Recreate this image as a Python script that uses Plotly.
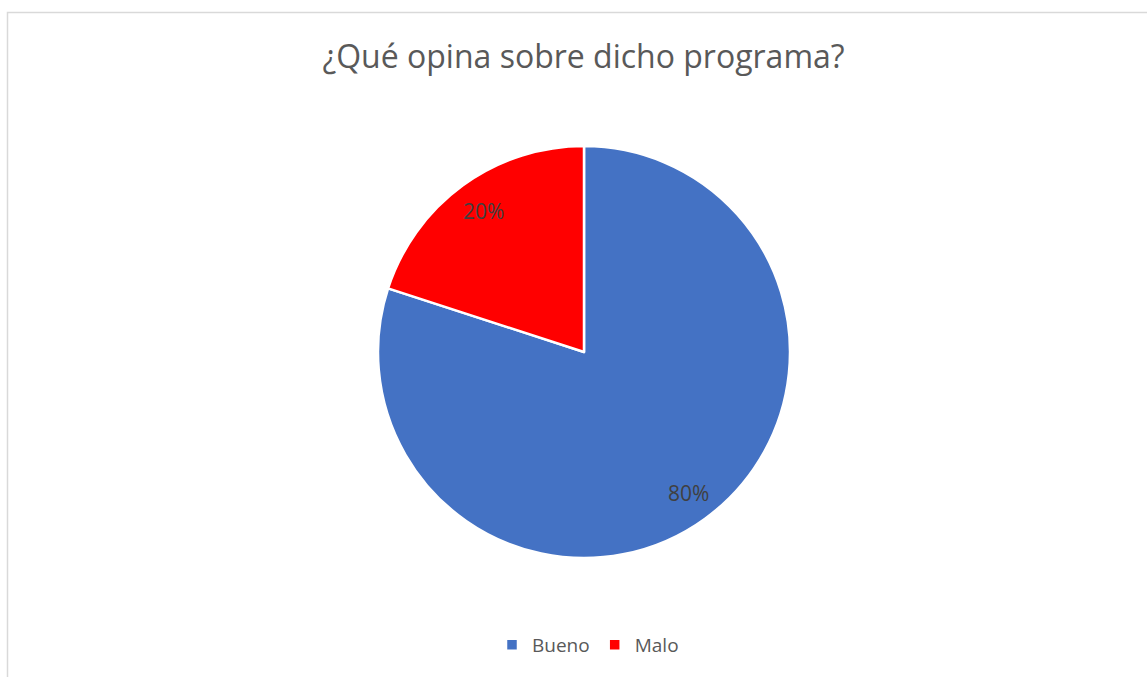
import math
import plotly.graph_objects as go

labels = ["Bueno", "Malo"]
values = [80, 20]
colors = ["#4472C4", "#FF0000"]
title_text = "¿Qué opina sobre dicho programa?"

W, H = 1147, 677
cx, cy, R = 584, 352, 206

fig = go.Figure()
fig.add_trace(go.Pie(
    labels=labels, values=values, sort=False, direction="clockwise", rotation=0,
    marker=dict(colors=colors, line=dict(color="white", width=2.5)),
    textinfo="none", hoverinfo="label+percent",
    domain=dict(x=[(cx - R) / W, (cx + R) / W], y=[(H - (cy + R)) / H, (H - (cy - R)) / H]),
))

# percentage labels placed along each slice's bisector
total = sum(values)
cum = 0
for v in values:
    mid = (cum + v / 2) / total * 2 * math.pi
    cum += v
    px = cx + 0.845 * R * math.sin(mid) + 2
    py = cy - 0.845 * R * math.cos(mid)
    fig.add_annotation(x=px / W, y=(H - py) / H, xref="paper", yref="paper",
                       xanchor="center", yanchor="middle",
                       text=f"{round(v / total * 100)}%", showarrow=False,
                       font=dict(family="Open Sans", size=21, color="#404040"))

fig.add_shape(type="rect", xref="paper", yref="paper",
              x0=7.5 / W, x1=1.02, y0=-0.02, y1=1 - 12.5 / H,
              line=dict(color="#D9D9D9", width=1.5), fillcolor="rgba(0,0,0,0)", layer="below")

fig.update_layout(
    width=W, height=H,
    margin=dict(l=0, r=0, t=0, b=0),
    paper_bgcolor="white", plot_bgcolor="white",
    title=dict(text=title_text, x=583.5 / W, xanchor="center", y=1 - 57 / H, yanchor="middle",
               font=dict(family="Open Sans", size=32, color="#595959")),
    showlegend=True,
    legend=dict(orientation="h", x=588 / W, xanchor="center", y=32 / H, yanchor="middle",
                font=dict(family="Open Sans", size=19, color="#595959"),
                itemwidth=30, traceorder="normal"),
)

fig.write_html("out.html", post_script="document.body.style.margin='0';",
               config={"displayModeBar": False})
